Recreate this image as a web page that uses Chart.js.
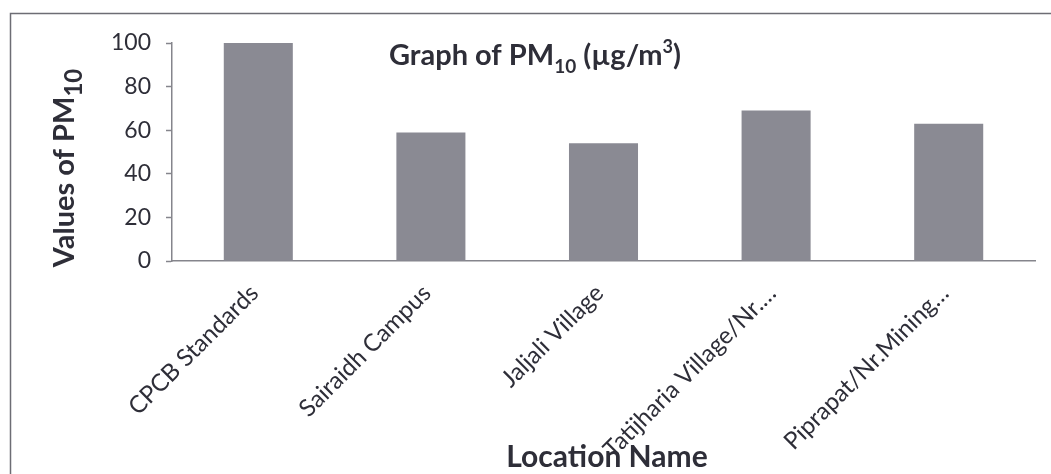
<!DOCTYPE html>
<html>
<head>
<meta charset="utf-8">
<script src="https://cdn.jsdelivr.net/npm/chart.js@4.4.1/dist/chart.umd.min.js"></script>
<style>
  html, body { margin: 0; padding: 0; background: #fff; }
  #wrap { width: 1051px; height: 474px; position: relative; }
</style>
</head>
<body>
<div id="wrap"><canvas id="grafico"></canvas></div>
<script>
// --- DADOS ---
const locations = ['CPCB Standards', 'Sairaidh Campus', 'Jaljali Village', 'Tatijharia Village/Nr.…', 'Piprapat/Nr.Mining…'];
const pm10Values = [100, 59, 54, 69, 63];
const yTicks = [0, 20, 40, 60, 80, 100];

const FONT = 'Lato, "Open Sans", sans-serif';
const TEXT_COLOR = '#2e2e38';

// desenha texto com partes em subscrito/sobrescrito, centrado em cx
function drawRich(ctx, parts, cx, baseline, baseSize) {
    let total = 0;
    parts.forEach(p => {
        ctx.font = `bold ${p.size || baseSize}px ${FONT}`;
        total += ctx.measureText(p.t).width;
    });
    let x = cx - total / 2;
    parts.forEach(p => {
        ctx.font = `bold ${p.size || baseSize}px ${FONT}`;
        ctx.fillText(p.t, x, baseline + (p.dy || 0));
        x += ctx.measureText(p.t).width;
    });
}

const textosPlugin = {
    id: 'textos',
    afterDraw(chart) {
        const ctx = chart.ctx;
        ctx.save();
        ctx.fillStyle = TEXT_COLOR;
        ctx.textAlign = 'left';
        ctx.textBaseline = 'alphabetic';

        // titulo dentro da area do grafico
        drawRich(ctx, [
            { t: 'Graph of PM' },
            { t: '10', size: 19, dy: 8 },
            { t: ' (µg/m' },
            { t: '3', size: 18, dy: -12 },
            { t: ')' }
        ], 535, 65, 29);

        // titulo eixo x
        drawRich(ctx, [{ t: 'Location Name' }], 607, 467, 30);

        // titulo eixo y (rotacionado)
        ctx.translate(74, 168);
        ctx.rotate(-Math.PI / 2);
        drawRich(ctx, [
            { t: 'Values of PM' },
            { t: '10', size: 24, dy: 8 }
        ], 0, 0, 29);
        ctx.restore();

        // moldura externa
        ctx.save();
        ctx.strokeStyle = '#6d6d74';
        ctx.lineWidth = 1.5;
        ctx.beginPath();
        ctx.moveTo(10.5, 474);
        ctx.lineTo(10.5, 13.5);
        ctx.lineTo(1051, 13.5);
        ctx.stroke();
        ctx.restore();
    }
};

document.addEventListener('DOMContentLoaded', () => {
    const ctx = document.getElementById('grafico').getContext('2d');
    new Chart(ctx, {
        type: 'bar',
        data: {
            labels: locations,
            datasets: [{
                label: 'PM10',
                data: pm10Values,
                backgroundColor: '#8a8a93',
                borderWidth: 0,
                categoryPercentage: 1,
                barPercentage: 0.4
            }]
        },
        options: {
            responsive: true,
            maintainAspectRatio: false,
            animation: false,
            layout: { padding: { left: 0, right: 16, top: 43, bottom: 0 } },
            plugins: { legend: { display: false }, tooltip: { enabled: false } },
            scales: {
                x: {
                    afterFit: s => { s.height = 213; },
                    border: { color: '#85858c', width: 1.5 },
                    grid: { display: false, drawOnChartArea: false },
                    ticks: {
                        color: TEXT_COLOR,
                        font: { family: FONT, size: 24 },
                        minRotation: 45,
                        maxRotation: 45,
                        padding: 10,
                        labelOffset: -4,
                        autoSkip: false
                    }
                },
                y: {
                    min: 0,
                    max: 100,
                    afterFit: s => { s.width = 172; },
                    afterBuildTicks: s => { s.ticks = yTicks.map(v => ({ value: v })); },
                    border: { color: '#85858c', width: 1.5 },
                    grid: { drawOnChartArea: false, tickLength: 6, color: '#85858c', tickWidth: 1.5 },
                    ticks: {
                        color: TEXT_COLOR,
                        font: { family: FONT, size: 23 },
                        padding: 15
                    }
                }
            }
        },
        plugins: [textosPlugin]
    });
});
</script>
</body>
</html>
